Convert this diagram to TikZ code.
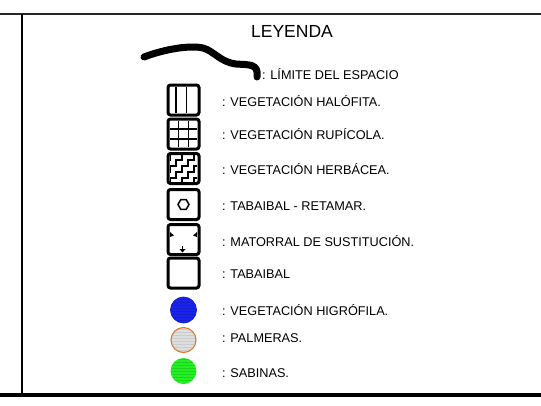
\documentclass[tikz,border=0pt]{standalone}
\usepackage{fontspec}
\setmainfont{Liberation Sans}
\usetikzlibrary{patterns}
\definecolor{higro}{RGB}{25,35,235}
\definecolor{palma}{RGB}{222,222,222}
\definecolor{palmaedge}{RGB}{215,120,45}
\definecolor{sabina}{RGB}{35,240,35}
\tikzset{
	legbox/.style={line width=3, rounded corners=2.5},
	legtxt/.style={anchor=west, inner sep=0, font=\fontsize{12.7}{14}\selectfont},
	inner/.style={line width=1.7}
}
\def\legsquare(#1,#2){\draw[legbox] (#1-15.5, #2-15) rectangle (#1+15.5, #2+15);}

\begin{document}
\begin{tikzpicture}[x=1pt, y=-1pt]
			%%%%% START %%%%%
			\useasboundingbox (0, 0) rectangle (541, 405);
			
			\draw[line width=2, color=black!85] (0, 14) -- (541, 14);
			\draw[line width=3.2] (0, 395) -- (541, 395);
			\draw[line width=1.6] (22, 14) -- (22, 395);
			
			\node[anchor=base, inner sep=0, font=\fontsize{17.5}{20}\selectfont] (title) at (292, 37) {LEYENDA};
			
			% limite del espacio
			\draw[line width=7, line cap=round] (144, 57) .. controls (165, 49) and (190, 45) .. (203, 48) .. controls (214, 51) and (220, 62) .. (236, 64) .. controls (248, 65) and (259, 63) .. (257, 77);
			\node[legtxt] (limite) at (262, 74) {: LÍMITE DEL ESPACIO};
			
			% halofita
			\legsquare(183.5,100)
			\draw[inner] (176, 87) -- (176, 113);
			\draw[inner] (186.5, 87) -- (186.5, 113);
			\node[legtxt] (halofita) at (222, 101) {: VEGETACIÓN HALÓFITA.};
			
			% rupicola
			\legsquare(183.5,134)
			\draw[inner] (178.5, 121) -- (178.5, 147);
			\draw[inner] (188.5, 121) -- (188.5, 147);
			\draw[inner] (170, 129) -- (197, 129);
			\draw[inner] (170, 139) -- (197, 139);
			\node[legtxt] (rupicola) at (222, 134) {: VEGETACIÓN RUPÍCOLA.};
			
			% herbacea
			\legsquare(183.5,168.5)
			\begin{scope}
				\clip (170, 155.5) rectangle (197, 181.5);
				\foreach \o in {-24, -12, 0, 12, 24} {
					\draw[line width=2] (164+\o, 190) -- ++(0, -6) -- ++(6, 0) -- ++(0, -6) -- ++(6, 0) -- ++(0, -6) -- ++(6, 0) -- ++(0, -6) -- ++(6, 0) -- ++(0, -6) -- ++(6, 0) -- ++(0, -6) -- ++(6, 0) -- ++(0, -6) -- ++(6, 0);
				}
			\end{scope}
			\node[legtxt] (herbacea) at (222, 169) {: VEGETACIÓN HERBÁCEA.};
			
			% tabaibal - retamar
			\legsquare(183.5,204.5)
			\draw[line width=1.5] (189, 204.5) -- (186.25, 199.7) -- (180.75, 199.7) -- (178, 204.5) -- (180.75, 209.3) -- (186.25, 209.3) -- cycle;
			\node[legtxt] (retamar) at (222, 206) {: TABAIBAL - RETAMAR.};
			
			% matorral
			\legsquare(183.5,239.5)
			\fill (170, 232) -- (174, 235.5) -- (170, 237) -- cycle;
			\fill (197, 232) -- (193, 235.5) -- (197, 237) -- cycle;
			\draw[line width=1] (182.5, 246) -- (182.5, 252);
			\fill (179.5, 249) -- (185.5, 249) -- (182.5, 252.5) -- cycle;
			\node[legtxt] (matorral) at (222, 241) {: MATORRAL DE SUSTITUCIÓN.};
			
			% tabaibal
			\legsquare(183.5,273)
			\node[legtxt] (tabaibal) at (222, 274) {: TABAIBAL};
			
			% higrofila
			\fill[color=higro] (183.5, 310) circle (13);
			\fill[pattern=horizontal lines, pattern color=higro!88!black] (183.5, 310) circle (12.5);
			\draw[line width=0.8, color=higro!85!black] (183.5, 310) circle (13);
			\node[legtxt] (higrofila) at (222, 310) {: VEGETACIÓN HIGRÓFILA.};
			
			% palmeras
			\fill[color=palma] (183.5, 340) circle (12.5);
			\fill[pattern=horizontal lines, pattern color=palma!92!black] (183.5, 340) circle (12);
			\draw[line width=1.1, color=palmaedge] (183.5, 340) circle (12.5);
			\node[legtxt] (palmeras) at (222, 338) {: PALMERAS.};
			
			% sabinas
			\fill[color=sabina] (183.5, 371) circle (13);
			\fill[pattern=horizontal lines, pattern color=sabina!88!black] (183.5, 371) circle (12.5);
			\node[legtxt] (sabinas) at (222, 373) {: SABINAS.};
			
			%%%%% END %%%%%
		\end{tikzpicture}
\end{document}
